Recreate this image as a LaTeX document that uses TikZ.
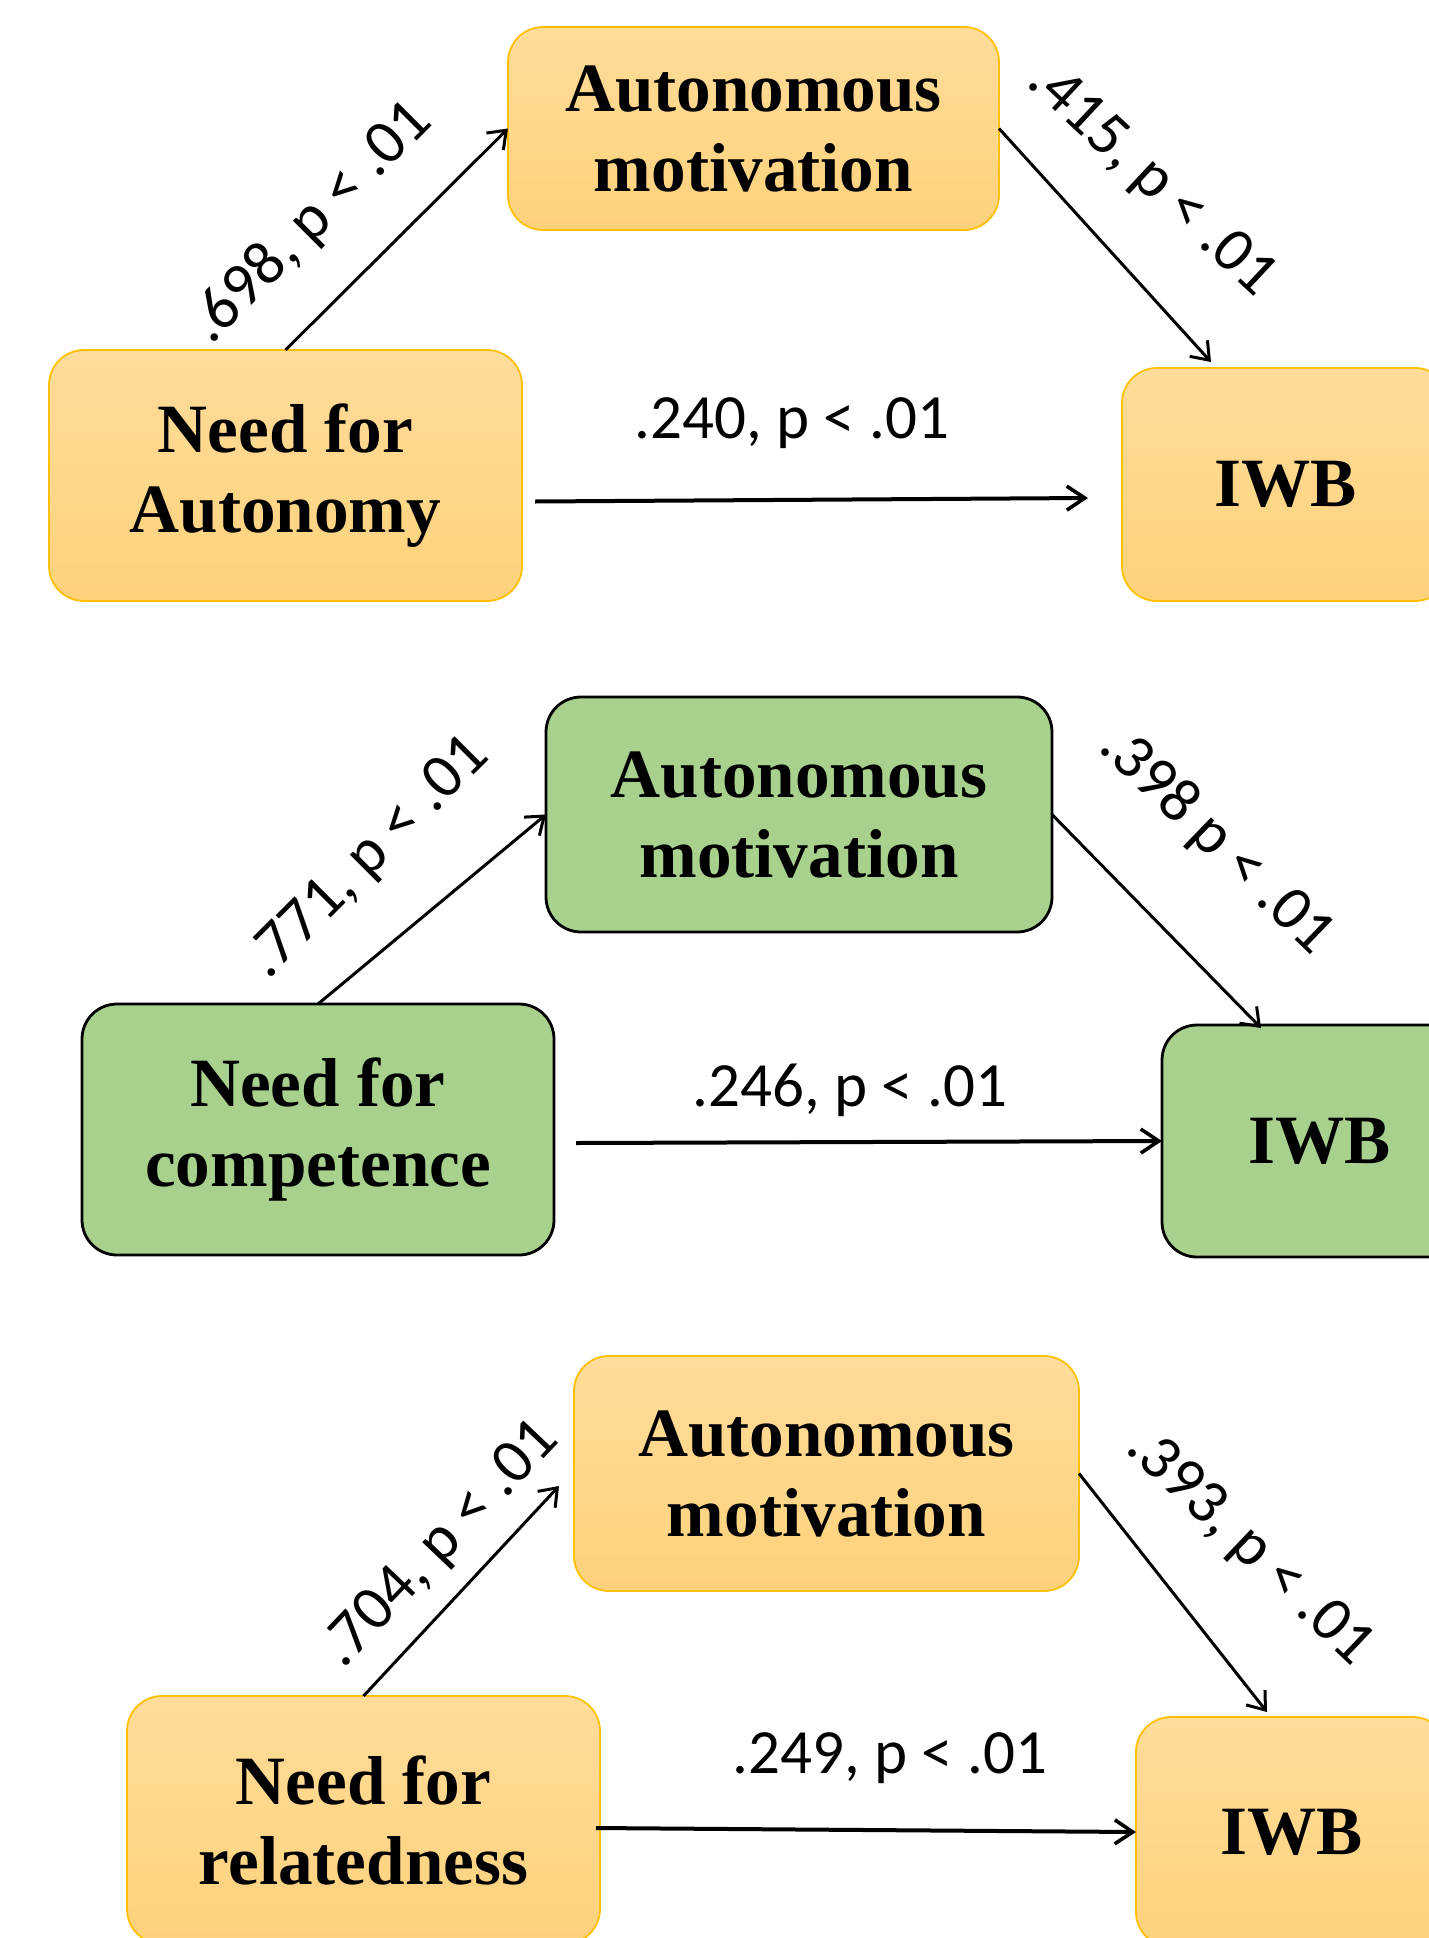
\documentclass[tikz,border=0pt]{standalone}
\usepackage{fontspec}
\setmainfont{Liberation Serif}
\newfontfamily\lblfont{Carlito}
\usetikzlibrary{arrows.meta,calc}
\definecolor{orTop}{HTML}{FFDC9A}
\definecolor{orBot}{HTML}{FED27B}
\definecolor{orLine}{HTML}{FFC000}
\definecolor{grFill}{HTML}{A9D18E}
\begin{document}
\begin{tikzpicture}[x=0.5pt,y=-0.5pt,
  box/.style={rounded corners=17.5pt, inner sep=0pt, outer sep=0pt, align=center,
    font=\fontsize{34.6}{40}\selectfont\bfseries},
  orbox/.style={box, draw=orLine, line width=0.9pt, top color=orTop, bottom color=orBot},
  grbox/.style={box, draw=black, line width=1.4pt, fill=grFill},
  diag/.style={line width=1.5pt, -{Straight Barb[length=8pt,width=12pt,line width=1.5pt]}},
  direct/.style={line width=2pt, -{Straight Barb[length=9pt,width=12pt,line width=1.8pt]}},
  lbl/.style={font=\lblfont\fontsize{31.5}{36}\selectfont, inner sep=0pt}
]
\useasboundingbox (0,0) rectangle (1429,1938);
\clip (0,0) rectangle (1429,1938);

% Panel 1
\node[orbox, minimum width=245.5pt, minimum height=101.5pt] (am1) at (753.5,128.5) {Autonomous\\motivation};
\node[orbox, minimum width=236.5pt, minimum height=125.5pt] (na1) at (285.5,475.5) {Need for\\Autonomy};
\node[orbox, minimum width=164pt, minimum height=116.5pt] (iwb1) at (1286,484.5) {IWB};
\coordinate (e1) at ($(iwb1.north west)+(89,-6)$);
\draw[diag] (na1.north) -- (am1.west);
\draw[diag] (am1.east) -- (e1);
\draw[direct] ($(na1.east)+(13,26)$) -- ($(iwb1.west)+(-34,13.5)$);
\node[lbl, rotate=45] (l1a) at (311,223) {.698, p < .01};
\node[lbl, rotate=-43] (l1b) at (1151,180) {.415, p < .01};
\node[lbl] (l1c) at (792,423) {.240, p < .01};

% Panel 2
\node[grbox, minimum width=253pt, minimum height=117.5pt] (am2) at (799,814.5) {Autonomous\\motivation};
\node[grbox, minimum width=236pt, minimum height=125.5pt] (nc2) at (318,1129.5) {Need for\\competence};
\node[grbox, minimum width=158pt, minimum height=116pt] (iwb2) at (1320,1141) {IWB};
\coordinate (e2) at ($(iwb2.north west)+(99,3)$);
\draw[diag] (nc2.north) -- (am2.west);
\draw[diag] (am2.east) -- (e2);
\draw[direct] ($(nc2.east)+(22,13.5)$) -- (iwb2.west);
\node[lbl, rotate=45] (l2a) at (369,858) {.771, p < .01};
\node[lbl, rotate=-44] (l2b) at (1216,841) {.398 p < .01};
\node[lbl] (l2c) at (850,1090) {.246, p < .01};

% Panel 3
\node[orbox, minimum width=252.5pt, minimum height=117.5pt] (am3) at (826.5,1473.5) {Autonomous\\motivation};
\node[orbox, minimum width=236.5pt, minimum height=124pt] (nr3) at (363.5,1820) {Need for\\relatedness};
\node[orbox, minimum width=156pt, minimum height=115pt] (iwb3) at (1292,1832) {IWB};
\coordinate (s3) at ($(am3.west)+(-15,12.5)$);
\coordinate (e3) at ($(iwb3.north west)+(131,-5)$);
\draw[diag] (nr3.north) -- (s3);
\draw[diag] (am3.east) -- (e3);
\draw[direct] ($(nr3.east)+(-4,8)$) -- (iwb3.west);
\node[lbl, rotate=46.5] (l3a) at (441,1545) {.704, p < .01};
\node[lbl, rotate=-43.5] (l3b) at (1249,1548) {.393, p < .01};
\node[lbl] (l3c) at (890,1758) {.249, p < .01};
\end{tikzpicture}
\end{document}
